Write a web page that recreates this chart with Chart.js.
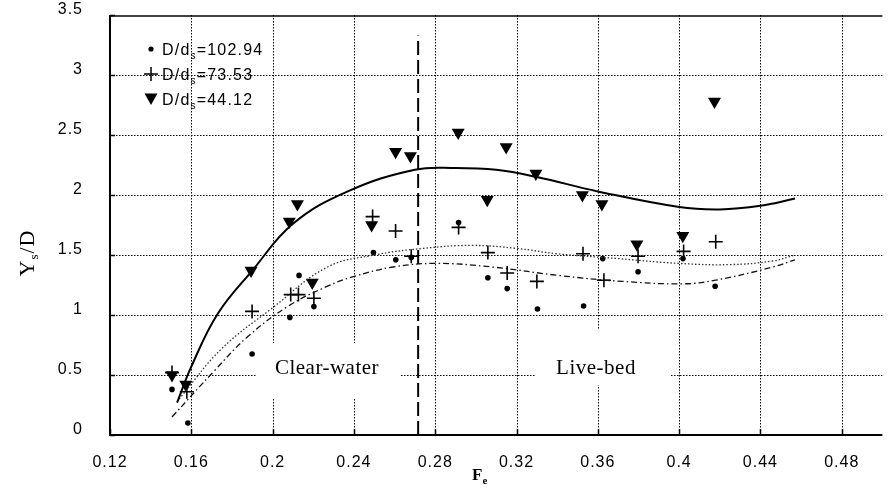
<!DOCTYPE html>
<html>
<head>
<meta charset="utf-8">
<script src="https://cdn.jsdelivr.net/npm/chart.js@4/dist/chart.umd.min.js"></script>
<style>
  html, body { margin: 0; padding: 0; background: #fff; overflow: hidden; }
  #wrap { width: 889px; height: 490px; overflow: hidden; }
  canvas { display: block; }
</style>
</head>
<body>
<div id="wrap"><canvas id="c" width="891" height="490"></canvas></div>
<script>
// Axis ticks
const xTicks = [0.12, 0.16, 0.20, 0.24, 0.28, 0.32, 0.36, 0.40, 0.44, 0.48];
const yTicks = [0, 0.5, 1, 1.5, 2, 2.5, 3, 3.5];

// Series labels (D/ds ratios)
const seriesNames = ['102.94', '73.53', '44.12'];

// D/ds = 102.94 (dots)
const frDots = [0.1505, 0.1583, 0.1899, 0.2085, 0.2130, 0.2203, 0.2496, 0.2606, 0.2682, 0.2915, 0.3059, 0.3154, 0.3303, 0.3530, 0.3624, 0.3798, 0.4019, 0.4177];
const ysDots = [0.38, 0.10, 0.675, 0.98, 1.33, 1.07, 1.52, 1.46, 1.48, 1.77, 1.31, 1.22, 1.05, 1.075, 1.47, 1.36, 1.47, 1.24];

// D/ds = 73.53 (plus)
const frPlus = [0.1505, 0.1578, 0.1899, 0.2089, 0.2127, 0.2203, 0.2492, 0.2605, 0.2682, 0.2915, 0.3059, 0.3154, 0.3300, 0.3527, 0.3630, 0.3798, 0.4022, 0.4180];
const ysPlus = [0.52, 0.36, 1.03, 1.17, 1.17, 1.14, 1.82, 1.70, 1.49, 1.73, 1.52, 1.35, 1.28, 1.51, 1.29, 1.49, 1.53, 1.61];

// D/ds = 44.12 (triangles)
const frTri = [0.1505, 0.1573, 0.1894, 0.2082, 0.2122, 0.2195, 0.2487, 0.2605, 0.2678, 0.2913, 0.3056, 0.3149, 0.3295, 0.3524, 0.3620, 0.3792, 0.4018, 0.4174];
const ysTri = [0.50, 0.42, 1.37, 1.78, 1.925, 1.27, 1.75, 2.36, 2.325, 2.52, 1.96, 2.40, 2.18, 2.00, 1.925, 1.59, 1.66, 2.78];

// Trend curves
const fitTriF = [0.153, 0.160, 0.173, 0.190, 0.210, 0.237, 0.270, 0.290, 0.310, 0.330, 0.360, 0.400, 0.420, 0.440, 0.457];
const fitTriY = [0.27, 0.57, 1.01, 1.37, 1.76, 2.03, 2.21, 2.225, 2.21, 2.15, 2.03, 1.90, 1.88, 1.91, 1.97];

const fitPlusF = [0.154, 0.175, 0.200, 0.227, 0.250, 0.274, 0.298, 0.320, 0.340, 0.370, 0.400, 0.425, 0.446, 0.457];
const fitPlusY = [0.30, 0.72, 1.06, 1.40, 1.50, 1.555, 1.58, 1.555, 1.51, 1.47, 1.43, 1.42, 1.45, 1.50];

const fitDotsF = [0.1505, 0.1716, 0.1878, 0.2073, 0.227, 0.2398, 0.2593, 0.2804, 0.308, 0.3405, 0.3722, 0.402, 0.418, 0.4461, 0.457];
const fitDotsY = [0.15, 0.54, 0.82, 1.07, 1.24, 1.32, 1.40, 1.43, 1.40, 1.33, 1.28, 1.26, 1.29, 1.40, 1.46];

// Clear-water / live-bed threshold
const thresholdF = 0.2716;
const thresholdTop = 3.33;

const pts = (xs, ys) => xs.map((x, i) => ({ x: x, y: ys[i] }));
const fmt = v => String(+v.toFixed(2));

const SANS = '"Liberation Sans", Arial, sans-serif';
const SERIF = '"Liberation Serif", "Times New Roman", serif';

// draws a run of [text, fontSize, baselineShift] pieces from (x, y)
function drawRuns(ctx, runs, x, y, family, weight) {
  let cx = x;
  runs.forEach(r => {
    ctx.font = (weight ? weight + ' ' : '') + r[1] + 'px ' + family;
    ctx.fillText(r[0], cx, y + r[2]);
    cx += ctx.measureText(r[0]).width;
  });
  return cx - x;
}
function runsWidth(ctx, runs, family, weight) {
  let w = 0;
  runs.forEach(r => {
    ctx.font = (weight ? weight + ' ' : '') + r[1] + 'px ' + family;
    w += ctx.measureText(r[0]).width;
  });
  return w;
}

const frame = {
  id: 'frame',
  beforeDraw(chart) {
    // slightly spaced tick lettering
    chart.ctx.letterSpacing = '1px';
  },
  beforeDatasetsDraw(chart) {
    const { ctx, chartArea: a, scales: { x, y } } = chart;
    ctx.save();
    ctx.letterSpacing = '0px';
    // dotted grid
    ctx.strokeStyle = '#000';
    ctx.lineWidth = 1;
    ctx.setLineDash([1.5, 1.5]);
    xTicks.forEach(v => {
      if (v === xTicks[0]) return;
      const px = Math.round(x.getPixelForValue(v)) + 0.5;
      ctx.beginPath(); ctx.moveTo(px, a.top); ctx.lineTo(px, a.bottom); ctx.stroke();
    });
    yTicks.forEach(v => {
      if (v === 0 || v === 3.5) return;
      const py = Math.round(y.getPixelForValue(v)) + 0.5;
      ctx.beginPath(); ctx.moveTo(a.left, py); ctx.lineTo(a.right, py); ctx.stroke();
    });
    ctx.setLineDash([]);
    // white boxes behind region labels
    ctx.fillStyle = '#fff';
    ctx.fillRect(257, 343, 143, 55);
    ctx.fillRect(535, 330, 135, 55);
    ctx.fillStyle = '#000';
    ctx.font = '21px ' + SERIF;
    ctx.letterSpacing = '0.5px';
    ctx.textAlign = 'center';
    ctx.textBaseline = 'middle';
    ctx.fillText('Clear-water', 327, 368);
    ctx.fillText('Live-bed', 596, 368);
    ctx.letterSpacing = '0px';
    // axes
    ctx.strokeStyle = '#000';
    ctx.lineWidth = 2;
    ctx.beginPath();
    ctx.moveTo(a.left, a.top); ctx.lineTo(a.left, a.bottom); ctx.lineTo(a.right, a.bottom);
    ctx.stroke();
    ctx.lineWidth = 1.5;
    ctx.beginPath(); ctx.moveTo(a.left, a.top + 1); ctx.lineTo(a.right, a.top + 1); ctx.stroke();
    // inward tick marks
    ctx.lineWidth = 1.5;
    xTicks.forEach(v => {
      const px = Math.round(x.getPixelForValue(v)) + 0.5;
      ctx.beginPath(); ctx.moveTo(px, a.bottom); ctx.lineTo(px, a.bottom - 6); ctx.stroke();
    });
    yTicks.forEach(v => {
      const py = Math.round(y.getPixelForValue(v)) + 0.5;
      ctx.beginPath(); ctx.moveTo(a.left, py); ctx.lineTo(a.left + 5, py); ctx.stroke();
    });
    ctx.restore();
  },
  afterDraw(chart) {
    const { ctx } = chart;
    ctx.save();
    ctx.fillStyle = '#000';
    ctx.strokeStyle = '#000';
    ctx.textBaseline = 'alphabetic';
    ctx.textAlign = 'left';
    // legend
    const rows = [49, 74, 99];
    const mx = 151, tx = 162;
    rows.forEach((ry, i) => {
      ctx.letterSpacing = '0px';
      if (i === 0) {
        ctx.beginPath(); ctx.arc(mx, ry, 2.6, 0, Math.PI * 2); ctx.fill();
      } else if (i === 1) {
        ctx.lineWidth = 1.5;
        ctx.beginPath();
        ctx.moveTo(mx - 7, ry); ctx.lineTo(mx + 7, ry);
        ctx.moveTo(mx, ry - 7); ctx.lineTo(mx, ry + 7);
        ctx.stroke();
      } else {
        ctx.beginPath();
        ctx.moveTo(mx - 6.5, ry - 5.5); ctx.lineTo(mx + 6.5, ry - 5.5); ctx.lineTo(mx, ry + 6);
        ctx.closePath(); ctx.fill();
      }
      ctx.letterSpacing = '1.2px';
      drawRuns(ctx, [['D/d', 16, 0], ['s', 10, 4], ['=' + seriesNames[i], 16, 0]], tx, ry + 6, SANS);
    });
    // y title
    ctx.save();
    ctx.letterSpacing = '1px';
    ctx.translate(26, 253);
    ctx.rotate(-Math.PI / 2);
    const yRuns = [['Y', 22, 0], ['s', 13, 4], ['/D', 22, 0]];
    drawRuns(ctx, yRuns, -runsWidth(ctx, yRuns, SERIF) / 2, 8, SERIF);
    ctx.restore();
    // x title
    ctx.letterSpacing = '0px';
    drawRuns(ctx, [['F', 17, 0], ['e', 11, 4]], 472, 480, SERIF, 'bold');
    ctx.restore();
  }
};

new Chart(document.getElementById('c'), {
  type: 'scatter',
  data: {
    datasets: [
      { label: 'fit44', type: 'line', data: pts(fitTriF, fitTriY), borderColor: '#000', borderWidth: 2, pointRadius: 0, tension: 0.4, fill: false },
      { label: 'fit73', type: 'line', data: pts(fitPlusF, fitPlusY), borderColor: '#333', borderWidth: 1.3, borderDash: [1.5, 2], pointRadius: 0, tension: 0.4, fill: false },
      { label: 'fit102', type: 'line', data: pts(fitDotsF, fitDotsY), borderColor: '#111', borderWidth: 1.3, borderDash: [6, 3, 1.5, 3], pointRadius: 0, tension: 0.4, fill: false },
      { label: 'threshold', type: 'line', data: [{ x: thresholdF, y: 0 }, { x: thresholdF, y: thresholdTop }], borderColor: '#000', borderWidth: 2, borderDash: [14, 5], pointRadius: 0, fill: false },
      { label: seriesNames[0], data: pts(frDots, ysDots), pointStyle: 'circle', pointRadius: 2.8, backgroundColor: '#000', borderColor: '#000', borderWidth: 0 },
      { label: seriesNames[1], data: pts(frPlus, ysPlus), pointStyle: 'cross', pointRadius: 7, borderColor: '#000', borderWidth: 1.6 },
      { label: seriesNames[2], data: pts(frTri, ysTri), pointStyle: 'triangle', rotation: 180, pointRadius: 7.5, backgroundColor: '#000', borderColor: '#000', borderWidth: 0 }
    ]
  },
  options: {
    responsive: false,
    animation: false,
    devicePixelRatio: 1,
    layout: { padding: { top: 15, left: 0, right: 0, bottom: 0 } },
    plugins: { legend: { display: false }, tooltip: { enabled: false } },
    scales: {
      x: {
        type: 'linear', min: 0.12, max: 0.5,
        afterBuildTicks: s => { s.ticks = xTicks.map(v => ({ value: v })); },
        afterFit: s => { s.height = 55; s.paddingLeft = 0; s.paddingRight = 0; },
        grid: { display: false }, border: { display: false },
        ticks: { color: '#000', font: { family: SANS, size: 16 }, padding: 10, maxRotation: 0, autoSkip: false, callback: v => fmt(v) }
      },
      y: {
        min: 0, max: 3.5,
        afterBuildTicks: s => { s.ticks = yTicks.map(v => ({ value: v })); },
        afterFit: s => { s.width = 110; s.paddingTop = 0; s.paddingBottom = 0; },
        grid: { display: false }, border: { display: false },
        ticks: { color: '#000', font: { family: SANS, size: 16 }, padding: 19, labelOffset: -5, autoSkip: false, callback: v => fmt(v) }
      }
    }
  },
  plugins: [frame]
});
</script>
</body>
</html>
